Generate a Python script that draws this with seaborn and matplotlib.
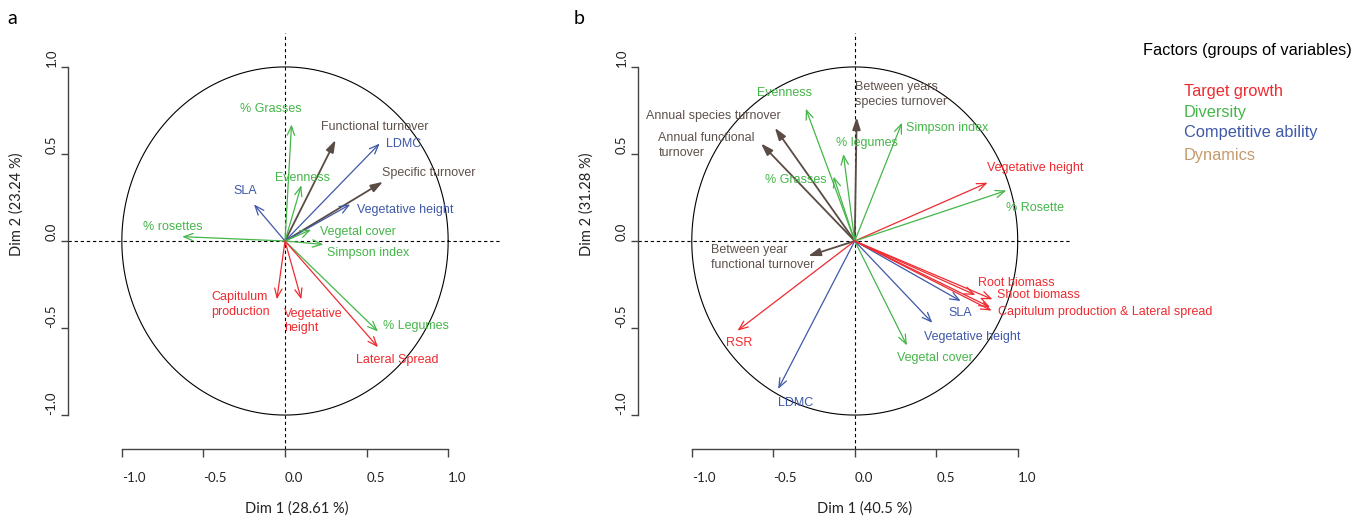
import numpy as np
import pandas as pd
import matplotlib
matplotlib.use("Agg")
import matplotlib.pyplot as plt
import seaborn as sns

sns.set_theme(style="white")
plt.rcParams["font.family"] = ["Liberation Sans", "DejaVu Sans"]

# ---- group colours -------------------------------------------------------
groups = ["Target growth", "Diversity", "Competitive ability", "Dynamics"]
group_colors = {
    "Target growth": "#EE2B30",
    "Diversity": "#45B649",
    "Competitive ability": "#3F58A8",
    "Dynamics": "#5A4B44",
}
legend_colors = {
    "Target growth": "#EE2B30",
    "Diversity": "#45B649",
    "Competitive ability": "#3F58A8",
    "Dynamics": "#C49A6C",
}
label_colors = {
    "Target growth": "#EE2B30",
    "Diversity": "#45B649",
    "Competitive ability": "#3F58A8",
    "Dynamics": "#5E524C",
}

# ---- panel a: variable coordinates on Dim 1 / Dim 2 ------------------------
vars_a = ["% Grasses", "Functional turnover", "LDMC", "Specific turnover",
          "Evenness", "SLA", "Vegetative height", "Vegetal cover",
          "% rosettes", "Simpson index", "Capitulum\nproduction",
          "Vegetative\nheight", "% Legumes", "Lateral Spread"]
dim1_a = [0.04, 0.31, 0.58, 0.60, 0.10, -0.19, 0.40, 0.16,
          -0.63, 0.235, -0.05, 0.10, 0.57, 0.57]
dim2_a = [0.67, 0.58, 0.56, 0.34, 0.32, 0.21, 0.21, 0.065,
          0.025, -0.02, -0.335, -0.335, -0.52, -0.61]
group_a = ["Diversity", "Dynamics", "Competitive ability", "Dynamics",
           "Diversity", "Competitive ability", "Competitive ability", "Diversity",
           "Diversity", "Diversity", "Target growth",
           "Target growth", "Diversity", "Target growth"]
inertia_a = (28.61, 23.24)

# ---- panel b ---------------------------------------------------------------
vars_b = ["Between years\nspecies turnover", "Evenness", "Annual species turnover",
          "Annual functional\nturnover", "Simpson index", "% legumes", "% Grasses",
          "Vegetative height", "% Rosette", "Between year\nfunctional turnover",
          "RSR", "LDMC", "Vegetal cover", "Vegetative height", "SLA",
          "Root biomass", "Shoot biomass",
          "Capitulum production & Lateral spread", ""]
dim1_b = [0.012, -0.30, -0.49, -0.575, 0.29, -0.07, -0.13, 0.815, 0.93, -0.285,
          -0.72, -0.47, 0.32, 0.476, 0.65, 0.74, 0.845, 0.83, 0.84]
dim2_b = [0.71, 0.76, 0.65, 0.56, 0.68, 0.50, 0.37, 0.335, 0.29, -0.086,
          -0.515, -0.85, -0.60, -0.47, -0.345, -0.31, -0.335, -0.38, -0.40]
group_b = ["Dynamics", "Diversity", "Dynamics", "Dynamics", "Diversity",
           "Diversity", "Diversity", "Target growth", "Diversity", "Dynamics",
           "Target growth", "Competitive ability", "Diversity",
           "Competitive ability", "Competitive ability", "Target growth",
           "Target growth", "Target growth", "Target growth"]
inertia_b = (40.5, 31.28)

# label anchor (x, y, ha) for each variable name
layout_a = [(-0.085, 0.76, "center"), (0.55, 0.655, "center"), (0.73, 0.56, "center"),
            (0.88, 0.39, "center"), (0.11, 0.36, "center"), (-0.245, 0.29, "center"),
            (0.74, 0.18, "center"), (0.45, 0.05, "center"), (-0.69, 0.08, "center"),
            (0.51, -0.07, "center"), (-0.45, -0.366, "left"), (-0.006, -0.46, "left"),
            (0.80, -0.487, "center"), (0.69, -0.684, "center")]
layout_b = [(0.0, 0.84, "left"), (-0.43, 0.85, "center"), (-0.87, 0.72, "center"),
            (-1.205, 0.55, "left"), (0.566, 0.65, "center"), (0.076, 0.565, "center"),
            (-0.36, 0.35, "center"), (0.81, 0.42, "left"), (1.106, 0.19, "center"),
            (-0.88, -0.095, "left"), (-0.71, -0.588, "center"), (-0.36, -0.933, "center"),
            (0.49, -0.67, "center"), (0.72, -0.55, "center"), (0.646, -0.415, "center"),
            (0.994, -0.243, "center"), (0.87, -0.31, "left"), (0.88, -0.406, "left"),
            (0.0, 0.0, "left")]

ticks = [-1.0, -0.5, 0.0, 0.5, 1.0]
tick_labels = ["-1.0", "-0.5", "0.0", "0.5", "1.0"]

W, H = 1365, 522
fig = plt.figure(figsize=(W / 100, H / 100), dpi=100)


def px_axes(left, top, right, bottom):
    return fig.add_axes([left / W, 1 - bottom / H, (right - left) / W, (bottom - top) / H])


ax_a = px_axes(68, 33, 502, 449)
ax_b = px_axes(638, 33, 1071.5, 449)

theta = np.linspace(0, 2 * np.pi, 361)
circle = pd.DataFrame({"x": np.cos(theta), "y": np.sin(theta)})

axis_font = ["Lato", "DejaVu Sans"]


def draw_panel(ax, names, d1, d2, grp, layout, inertia, letter, letter_x, xlab_x):
    ax.set_xlim(-1.33, 1.33)
    ax.set_ylim(-1.195, 1.195)
    sns.lineplot(data=circle, x="x", y="y", sort=False, estimator=None,
                 color="black", lw=0.8, ax=ax)
    ax.axhline(0, color="black", lw=0.8, ls=(0, (3, 2.5)))
    ax.axvline(0, color="black", lw=0.8, ls=(0, (3, 2.5)))

    for name, x, y, g, (lx, ly, ha) in zip(names, d1, d2, grp, layout):
        if g == "Dynamics":
            props = dict(arrowstyle="-|>, head_length=0.6, head_width=0.2",
                         color=group_colors[g], lw=1.3)
        else:
            props = dict(arrowstyle="->, head_length=0.55, head_width=0.22",
                         color=group_colors[g], lw=0.9)
        ax.annotate("", xy=(x, y), xytext=(0, 0),
                    arrowprops=dict(shrinkA=0, shrinkB=0, mutation_scale=12, **props))
        if name:
            ax.text(lx, ly, name, color=label_colors[g], fontsize=9, ha=ha,
                    va="center", multialignment="left", linespacing=1.3,
                    clip_on=False)

    for side in ("top", "right"):
        ax.spines[side].set_visible(False)
    ax.spines["left"].set_bounds(-1, 1)
    ax.spines["bottom"].set_bounds(-1, 1)
    for side in ("left", "bottom"):
        ax.spines[side].set_color("#444444")
        ax.spines[side].set_linewidth(1.0)

    ax.set_xticks(ticks)
    ax.set_yticks(ticks)
    ax.set_xticklabels(tick_labels, ha="left", family=axis_font, fontsize=9.5,
                       color="#222222")
    ax.set_yticklabels(tick_labels, rotation=90, va="bottom", ha="center",
                       family=axis_font, fontsize=9.5, color="#222222")
    ax.tick_params(axis="x", direction="out", length=5.5, width=1.0,
                   color="#444444", pad=11, bottom=True)
    ax.tick_params(axis="y", direction="out", length=4.8, width=1.0,
                   color="#444444", pad=7, left=True)

    ax.set_xlabel(f"Dim 1 ({inertia[0]:g} %)", family=axis_font, fontsize=10.5,
                  color="#222222")
    ax.set_ylabel(f"Dim 2 ({inertia[1]:g} %)", family=axis_font, fontsize=10.5,
                  color="#222222")
    ax.xaxis.set_label_coords(xlab_x, -0.125)
    ax.yaxis.set_label_coords(-0.101, 0.588)
    ax.text(letter_x, 1.036, letter, transform=ax.transAxes, fontsize=14,
            family=axis_font, ha="left", va="center", color="black")


draw_panel(ax_a, vars_a, dim1_a, dim2_a, group_a, layout_a, inertia_a,
           "a", -0.140, 0.528)
draw_panel(ax_b, vars_b, dim1_b, dim2_b, group_b, layout_b, inertia_b,
           "b", -0.148, 0.522)

# legend of variable groups
fig.text(1143 / W, 1 - 50.7 / H, "Factors (groups of variables)", fontsize=11.8,
         ha="left", va="center", color="black")
for g, ypx in zip(groups, [91.7, 112, 132, 155.7]):
    fig.text(1184 / W, 1 - ypx / H, g, fontsize=11.8, ha="left", va="center",
             color=legend_colors[g])

fig.savefig("out.png", dpi=100)
